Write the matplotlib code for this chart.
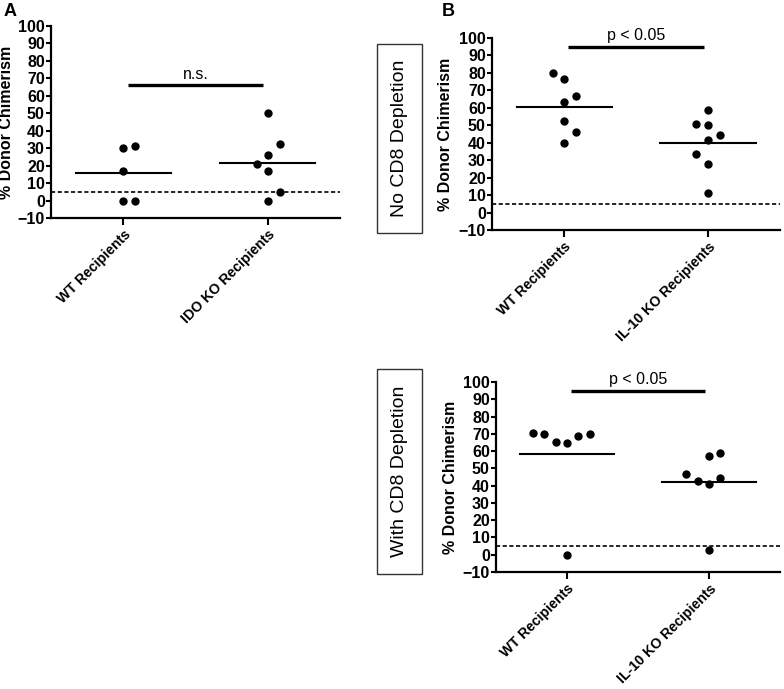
import numpy as np
import matplotlib
matplotlib.use('Agg')
import matplotlib.pyplot as plt
from matplotlib.patches import Rectangle

plt.rcParams['font.family'] = ['Liberation Sans', 'DejaVu Sans']

# Data (% donor chimerism per recipient)
groups_a = ['WT Recipients', 'IDO KO Recipients']
a_wt = [30, 31, 17, 0, 0]
a_ko = [50, 32.5, 26, 20.7, 17, 5, 0]

groups_b = ['WT Recipients', 'IL-10 KO Recipients']
b1_wt = [80, 76.4, 66.6, 63.4, 52.7, 46, 40]
b1_ko = [59, 51, 50, 44.3, 41.5, 33.8, 27.6, 11]
b2_wt = [70.2, 70, 65.4, 64.8, 68.5, 69.8, 0]
b2_ko = [58.7, 57.3, 46.9, 42.5, 44.2, 40.8, 3]

sig_a = 'n.s.'
sig_b = 'p < 0.05'
detection_limit = 5

# horizontal scatter of the dots (column layout)
a_wt_dx = [0, 0.08, 0, 0, 0.08]
a_ko_dx = [0, 0.085, 0, -0.075, 0, 0.085, 0]
b1_wt_dx = [-0.08, 0, 0.08, 0, 0, 0.08, 0]
b1_ko_dx = [0, -0.08, 0, 0.08, 0, -0.08, 0, 0]
b2_wt_dx = [-0.24, -0.16, -0.08, 0, 0.08, 0.16, 0]
b2_ko_dx = [0.08, 0, -0.16, -0.08, 0.08, 0, 0]

fig = plt.figure(figsize=(7.84, 6.89), dpi=100)


def panel(rect, series, offsets, labels, sig, ylab_x):
    ax = fig.add_axes(rect)
    for i, (vals, dx) in enumerate(zip(series, offsets)):
        ax.scatter(np.array(dx) + i, vals, s=36, color='black', zorder=3,
                   linewidths=0)
        m = np.mean(vals)
        ax.plot([i - 0.33, i + 0.33], [m, m], color='black', lw=1.5)
    ax.axhline(detection_limit, color='black', lw=1.2, ls=(0, (2.5, 1.5)))
    bar_y = 95 if sig != 'n.s.' else 66
    ax.plot([0.03, 0.97], [bar_y, bar_y], color='black',
            lw=2.4, solid_capstyle='butt')
    ax.text(0.5, bar_y + 2, sig, ha='center', va='bottom', fontsize=11.5)
    ax.set_xlim(-0.5, 1.5)
    ax.set_ylim(-10, 100)
    ax.set_yticks(range(-10, 101, 10))
    ax.set_xticks([0, 1])
    ax.set_xticklabels(labels, rotation=45, ha='right', rotation_mode='anchor',
                       fontsize=10.2, fontweight='bold')
    for t in ax.get_yticklabels():
        t.set_fontweight('bold')
        t.set_fontsize(11.5)
    ax.tick_params(axis='y', length=3.5, width=1.5, pad=1)
    ax.tick_params(axis='x', length=5, width=1.5, pad=2)
    for s in ['top', 'right']:
        ax.spines[s].set_visible(False)
    for s in ['left', 'bottom']:
        ax.spines[s].set_linewidth(1.6)
    ax.set_ylabel('% Donor Chimerism', fontsize=11.5, fontweight='bold')
    ax.yaxis.set_label_coords(ylab_x, 0.5)
    return ax


panel([0.0651, 0.6836, 0.3686, 0.2787], [a_wt, a_ko], [a_wt_dx, a_ko_dx],
      groups_a, sig_a, -0.128)
panel([0.6276, 0.6662, 0.3673, 0.2787], [b1_wt, b1_ko], [b1_wt_dx, b1_ko_dx],
      groups_b, sig_b, -0.135)
panel([0.6327, 0.1698, 0.3622, 0.2758], [b2_wt, b2_ko], [b2_wt_dx, b2_ko_dx],
      groups_b, sig_b, -0.134)

# Side labels in boxes
for y0, y1, txt in [(0.6618, 0.9361, 'No CD8 Depletion'),
                    (0.1669, 0.4644, 'With CD8 Depletion')]:
    fig.add_artist(Rectangle((0.4809, y0), 0.0574, y1 - y0, fill=False,
                             edgecolor='#333333', lw=1.0,
                             transform=fig.transFigure))
    fig.text(0.5096, (y0 + y1) / 2, txt, rotation=90, ha='center',
             va='center', fontsize=14)

fig.text(0.004, 0.977, 'A', fontsize=13, fontweight='bold')
fig.text(0.564, 0.977, 'B', fontsize=13, fontweight='bold')

fig.savefig('out.png', dpi=100)
